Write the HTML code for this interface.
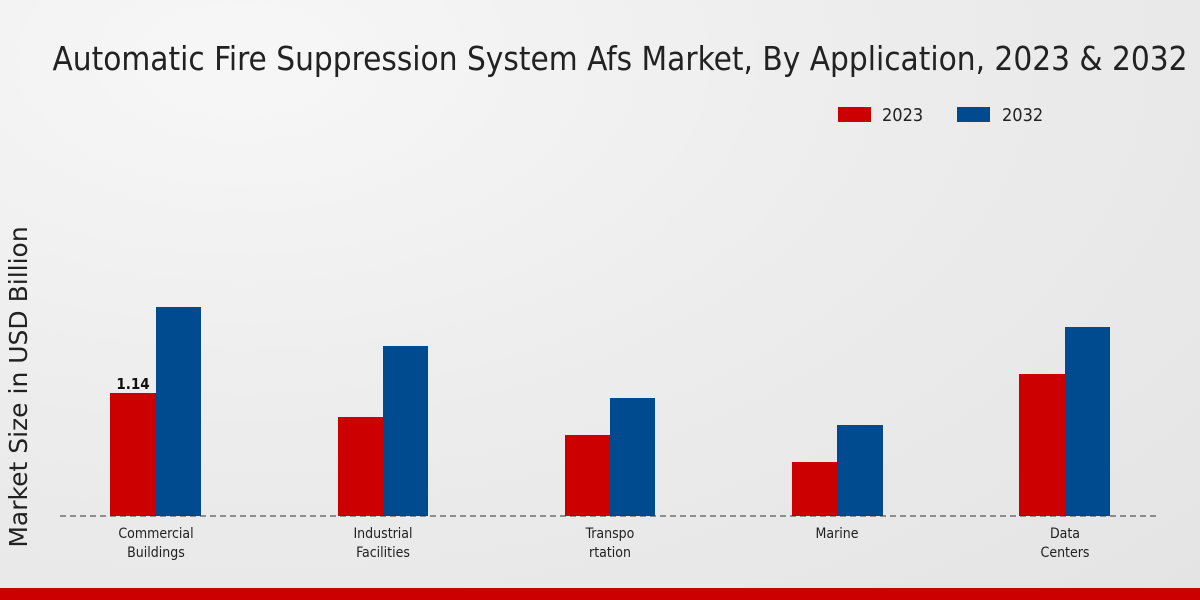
<!DOCTYPE html>
<html><head><style>
body{margin:0;width:1200px;height:600px;overflow:hidden;background:radial-gradient(ellipse at 20% 10%,#f7f7f7 0%,#ececec 50%,#e4e4e4 100%);font-family:"DejaVu Sans Condensed","DejaVu Sans","Liberation Sans",sans-serif;}
</style></head><body>
<svg width="1200" height="600" xmlns="http://www.w3.org/2000/svg" style="position:absolute;left:0;top:0">
<text x="620" y="70" text-anchor="middle" font-size="33" fill="#222" font-family="DejaVu Sans Condensed,DejaVu Sans,sans-serif" font-stretch="condensed">Automatic Fire Suppression System Afs Market, By Application, 2023 &amp; 2032</text>
<rect x="838" y="107" width="33" height="15" fill="#cc0000"/>
<text x="882" y="121" font-size="18" fill="#222" font-stretch="condensed">2023</text>
<rect x="957" y="107" width="33" height="15" fill="#004a8f"/>
<text x="1002" y="121" font-size="18" fill="#222" font-stretch="condensed">2032</text>
<text transform="translate(27,387) rotate(-90)" text-anchor="middle" font-size="25" fill="#222" font-family="DejaVu Sans,sans-serif" font-stretch="normal">Market Size in USD Billion</text>
<g>
<rect x="110" y="393" width="46" height="123" fill="#cc0000"/><rect x="156" y="307" width="45" height="209" fill="#004a8f"/>
<rect x="338" y="417" width="45" height="99" fill="#cc0000"/><rect x="383" y="346" width="45" height="170" fill="#004a8f"/>
<rect x="565" y="435" width="45" height="81" fill="#cc0000"/><rect x="610" y="398" width="45" height="118" fill="#004a8f"/>
<rect x="792" y="462" width="45" height="54" fill="#cc0000"/><rect x="837" y="425" width="46" height="91" fill="#004a8f"/>
<rect x="1019" y="374" width="46" height="142" fill="#cc0000"/><rect x="1065" y="327" width="45" height="189" fill="#004a8f"/>
</g>
<text x="133" y="389" text-anchor="middle" font-size="15" font-weight="bold" fill="#111">1.14</text>
<line x1="60" y1="516" x2="1160" y2="516" stroke="#333" stroke-width="1" stroke-dasharray="6,4"/>
<g font-size="14" fill="#222" text-anchor="middle" font-stretch="condensed">
<text x="156" y="538">Commercial</text><text x="156" y="557">Buildings</text>
<text x="383" y="538">Industrial</text><text x="383" y="557">Facilities</text>
<text x="610" y="538">Transpo</text><text x="610" y="557">rtation</text>
<text x="837" y="538">Marine</text>
<text x="1065" y="538">Data</text><text x="1065" y="557">Centers</text>
</g>
<rect x="0" y="588" width="1200" height="12" fill="#cc0000"/>
</svg>
</body></html>
